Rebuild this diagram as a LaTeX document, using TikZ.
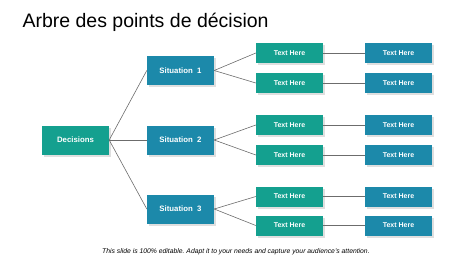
\documentclass[tikz,border=0pt]{standalone}
\usepackage{fontspec}
\setmainfont{Liberation Sans}
\usepackage{tikz}
\usetikzlibrary{shadows}

\definecolor{tealbox}{HTML}{14A08F}
\definecolor{bluebox}{HTML}{1C89AA}

\tikzset{
    box/.style={
        minimum width=67pt,
        inner sep=0pt,
        text=white,
        font=\bfseries,
        drop shadow={shadow xshift=2pt, shadow yshift=-2pt, opacity=0.25, fill=gray}
    },
    bigbox/.style={box, minimum height=29pt, font=\bfseries\fontsize{7.8}{9}\selectfont},
    smallbox/.style={box, minimum height=20pt, font=\bfseries\fontsize{7}{8}\selectfont},
    link/.style={draw=gray!85!black, line width=0.6pt}
}

\begin{document}
\begin{tikzpicture}[x=1pt, y=-1pt]
    \useasboundingbox (0,0) rectangle (474,266);
    \node[anchor=base west, font=\fontsize{19.5}{22}\selectfont] (title) at (19,27) {Arbre des points de décision};

    \node[bigbox, fill=tealbox] (dec) at (75.5,140) {Decisions};
    \node[bigbox, fill=bluebox] (sit1) at (180.5,70.5) {Situation\ \ 1};
    \node[bigbox, fill=bluebox] (sit2) at (180.5,140) {Situation\ \ 2};
    \node[bigbox, fill=bluebox] (sit3) at (180.5,209) {Situation\ \ 3};

    \foreach \i/\y in {1/53, 2/83, 3/125, 4/155, 5/196.5, 6/225.5} {
        \node[smallbox, fill=tealbox] (la\i) at (289.5,\y) {Text Here};
        \node[smallbox, fill=bluebox] (ra\i) at (398.5,\y) {Text Here};
        \draw[link] (la\i.east) -- (ra\i.west);
    }

    \foreach \s in {1,2,3}
        \draw[link] (dec.east) -- (sit\s.west);
    \draw[link] (sit1.east) -- (la1.west);
    \draw[link] (sit1.east) -- (la2.west);
    \draw[link] (sit2.east) -- (la3.west);
    \draw[link] (sit2.east) -- (la4.west);
    \draw[link] (sit3.east) -- (la5.west);
    \draw[link] (sit3.east) -- (la6.west);

    \node[anchor=west, inner sep=0pt, font=\frenchspacing\itshape\fontsize{6.8}{8}\selectfont] (note) at (102,252) {This slide is 100\% editable. Adapt it to your needs and capture your audience's attention.};
\end{tikzpicture}
\end{document}
